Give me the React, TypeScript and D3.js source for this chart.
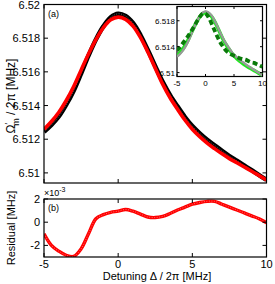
import React from 'react';
import * as d3 from 'd3';

// detuning grid [MHz]
const detuning = [-5, -4.5, -4, -3.5, -3, -2.5, -2, -1.5, -1, -0.5, 0, 0.5, 1, 1.5, 2, 2.5, 3, 3.5, 4, 4.5, 5, 5.5, 6, 6.5, 7, 7.5, 8, 8.5, 9, 9.5, 10];

// measured frequency (black circles, grey in inset)
const measured = [6.51244, 6.51285, 6.51335, 6.51405, 6.51488, 6.5159, 6.51696, 6.51792, 6.5187, 6.51924, 6.51945, 6.51932, 6.5189, 6.51819, 6.5173, 6.51634, 6.51541, 6.51462, 6.51395, 6.51332, 6.51278, 6.51235, 6.51197, 6.51164, 6.51131, 6.511, 6.51072, 6.51044, 6.51016, 6.50987, 6.50958];

// full model fit (red, light green in inset)
const fitFull = [6.51259, 6.51305, 6.5136, 6.5143, 6.51513, 6.5161, 6.51706, 6.51792, 6.51862, 6.51909, 6.51925, 6.51912, 6.51872, 6.51805, 6.51718, 6.51622, 6.51527, 6.51446, 6.51378, 6.51314, 6.51259, 6.51215, 6.51177, 6.51144, 6.51113, 6.51085, 6.5106, 6.51035, 6.5101, 6.50984, 6.50958];

// simple model fit (dark green dashed, inset)
const fitSimple = [6.5134, 6.5139, 6.5145, 6.5151, 6.5157, 6.5164, 6.5171, 6.5179, 6.5186, 6.5191, 6.5191, 6.5186, 6.5177, 6.5167, 6.5157, 6.5148, 6.5141, 6.5135, 6.5131, 6.5128, 6.5126, 6.5124, 6.5122, 6.5121, 6.512, 6.5118, 6.5116, 6.5115, 6.5113, 6.5111, 6.5109];

// residual, x 1e-3 MHz
const residual = [-1.0, -2.0, -2.5, -2.85, -2.95, -2.3, -1.0, 0.3, 0.65, 0.85, 0.95, 1.1, 0.95, 0.7, 0.45, 0.4, 0.5, 0.75, 1.05, 1.3, 1.55, 1.7, 1.8, 1.8, 1.55, 1.3, 1.05, 0.8, 0.55, 0.3, -0.05];

const xTicks = [-5, 0, 5, 10];
const mainYTicks = [6.51, 6.512, 6.514, 6.516, 6.518, 6.52];
const mainYLabels = ['6.51', '6.512', '6.514', '6.516', '6.518', '6.52'];
const resYTicks = [-2, 0, 2];
const insetYTicks = [6.51, 6.514, 6.518];
const insetYLabels = ['6.51', '6.514', '6.518'];

const font = '"Liberation Sans", Arial, sans-serif';

const M = { left: 44, right: 266.5, top: 4.5, bottom: 183 };
const R = { top: 199, bottom: 257 };
const I = { left: 177, right: 262.5, top: 6.5, bottom: 76.5 };

const App = () => {
  const x = d3.scaleLinear().domain([-5, 10]).range([M.left, M.right]);
  const y = d3.scaleLinear().domain([6.5094, 6.52]).range([M.bottom, M.top]);
  const yr = d3.scaleLinear().domain([-3, 2]).range([R.bottom, R.top]);
  const xi = d3.scaleLinear().domain([-5, 10]).range([I.left, I.right]);
  const yi = d3.scaleLinear().domain([6.5094, 6.5202]).range([I.bottom, I.top]);

  const line = (sx: any, sy: any, vals: number[]) =>
    d3.line<number>()
      .x((_, i) => sx(detuning[i]))
      .y((d) => sy(d))
      .curve(d3.curveCatmullRom)(vals) as string;

  const tl = 4;

  return (
    <svg width={275} height={284} style={{ position: 'absolute', left: 0, top: 0, background: '#fff' }} fontFamily={font}>
      <defs>
        <clipPath id="cm"><rect x={M.left} y={M.top} width={M.right - M.left} height={M.bottom - M.top} /></clipPath>
        <clipPath id="cr"><rect x={M.left} y={R.top} width={M.right - M.left} height={R.bottom - R.top} /></clipPath>
        <clipPath id="ci"><rect x={I.left} y={I.top} width={I.right - I.left} height={I.bottom - I.top} /></clipPath>
      </defs>

      {/* main panel */}
      <g clipPath="url(#cm)">
        <path d={line(x, y, measured)} fill="none" stroke="#000" strokeWidth={4.5} />
        <path d={line(x, y, measured)} fill="none" stroke="#777" strokeWidth={0.8} strokeDasharray="1,1.5" />
        <path d={line(x, y, fitFull)} fill="none" stroke="#f00" strokeWidth={3.6} />
      </g>
      <rect x={M.left} y={M.top} width={M.right - M.left} height={M.bottom - M.top} fill="none" stroke="#000" strokeWidth={1.2} />
      {mainYTicks.map((t, i) => (
        <g key={t}>
          <line x1={M.left} x2={M.left + tl} y1={y(t)} y2={y(t)} stroke="#000" />
          <line x1={M.right} x2={M.right - tl} y1={y(t)} y2={y(t)} stroke="#000" />
          <text x={M.left - 4} y={y(t) + 4} fontSize={11} textAnchor="end">{mainYLabels[i]}</text>
        </g>
      ))}
      {xTicks.map((t) => (
        <g key={t}>
          <line x1={x(t)} x2={x(t)} y1={M.bottom} y2={M.bottom - tl} stroke="#000" />
          <line x1={x(t)} x2={x(t)} y1={M.top} y2={M.top + tl} stroke="#000" />
        </g>
      ))}
      <text x={48} y={17} fontSize={9}>(a)</text>
      <text transform={`translate(15,96) rotate(-90)`} fontSize={12} textAnchor="middle">
        Ω<tspan fontSize={9} dy={-4}>′</tspan><tspan fontSize={9} dx={-3} dy={8}>m</tspan><tspan dy={-4}> / 2π [MHz]</tspan>
      </text>

      {/* inset */}
      <rect x={I.left} y={I.top} width={I.right - I.left} height={I.bottom - I.top} fill="#fff" stroke="#000" strokeWidth={1.2} />
      <g clipPath="url(#ci)">
        <path d={line(xi, yi, fitFull)} fill="none" stroke="#22e622" strokeWidth={3.6} />
        <path d={line(xi, yi, measured)} fill="none" stroke="#999" strokeWidth={2.2} />
        <path d={line(xi, yi, fitSimple)} fill="none" stroke="#0a7a0a" strokeWidth={3.8} strokeDasharray="5,3" />
      </g>
      {insetYTicks.map((t, i) => (
        <g key={t}>
          <line x1={I.left} x2={I.left + 2.5} y1={yi(t)} y2={yi(t)} stroke="#000" />
          <line x1={I.right} x2={I.right - 2.5} y1={yi(t)} y2={yi(t)} stroke="#000" />
          <text x={I.left - 2} y={yi(t) + 3} fontSize={8} textAnchor="end">{insetYLabels[i]}</text>
        </g>
      ))}
      {xTicks.map((t) => (
        <g key={t}>
          <line x1={xi(t)} x2={xi(t)} y1={I.bottom} y2={I.bottom - 2.5} stroke="#000" />
          <line x1={xi(t)} x2={xi(t)} y1={I.top} y2={I.top + 2.5} stroke="#000" />
          <text x={xi(t)} y={I.bottom + 9} fontSize={8} textAnchor="middle">{t}</text>
        </g>
      ))}

      {/* residual panel */}
      <g clipPath="url(#cr)">
        <path d={line(x, yr, residual)} fill="none" stroke="#f00" strokeWidth={3.4} />
        <path d={line(x, yr, residual)} fill="none" stroke="#ff8080" strokeWidth={0.8} strokeDasharray="1,1.5" />
      </g>
      <rect x={M.left} y={R.top} width={M.right - M.left} height={R.bottom - R.top} fill="none" stroke="#000" strokeWidth={1.2} />
      {resYTicks.map((t) => (
        <g key={t}>
          <line x1={M.left} x2={M.left + tl} y1={yr(t)} y2={yr(t)} stroke="#000" />
          <line x1={M.right} x2={M.right - tl} y1={yr(t)} y2={yr(t)} stroke="#000" />
          <text x={M.left - 4} y={yr(t) + 4} fontSize={11} textAnchor="end">{t}</text>
        </g>
      ))}
      {xTicks.map((t) => (
        <g key={t}>
          <line x1={x(t)} x2={x(t)} y1={R.bottom} y2={R.bottom - tl} stroke="#000" />
          <line x1={x(t)} x2={x(t)} y1={R.top} y2={R.top + tl} stroke="#000" />
          <text x={x(t)} y={R.bottom + 11} fontSize={11} textAnchor="middle">{t}</text>
        </g>
      ))}
      <text x={44} y={196} fontSize={9}>×10<tspan fontSize={7} dy={-4}>-3</tspan></text>
      <text x={48} y={211} fontSize={9}>(b)</text>
      <text transform={`translate(15,228) rotate(-90)`} fontSize={11} textAnchor="middle">Residual [MHz]</text>
      <text x={157} y={280} fontSize={11} textAnchor="middle">Detuning Δ / 2π [MHz]</text>
    </svg>
  );
};

export default App;
